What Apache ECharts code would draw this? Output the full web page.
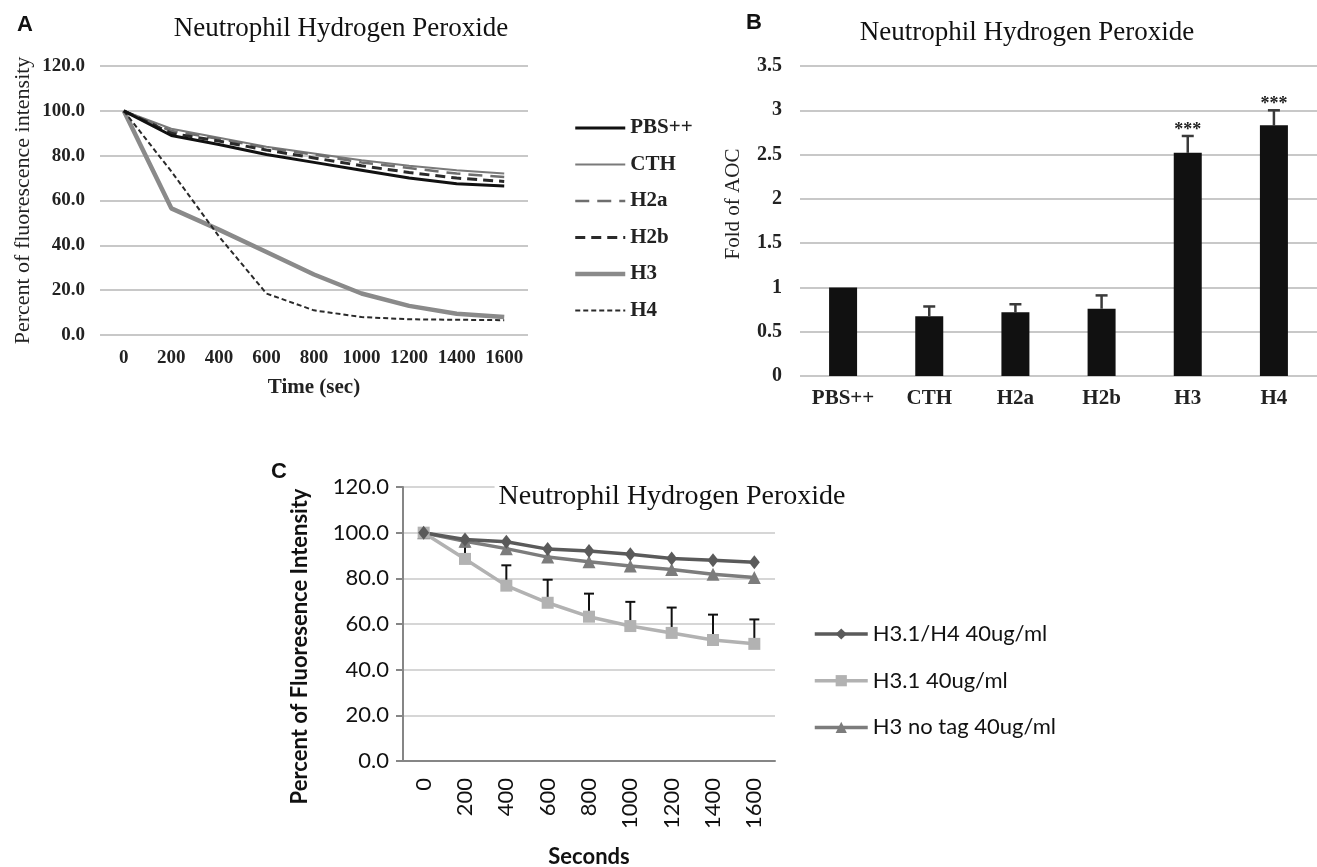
<!DOCTYPE html>
<html lang="en">
<head>
  <meta charset="UTF-8">
  <title>Neutrophil Hydrogen Peroxide</title>
  <script src="https://cdn.jsdelivr.net/npm/echarts@6/dist/echarts.min.js"></script>
  <style>
    html, body {
      margin: 0;
      padding: 0;
      background: #fff;
    }

    #main {
      width: 1317px;
      height: 867px;
    }
  </style>
</head>
<body>
  <div id="main"></div>

  <script type="text/javascript">
    // time points shared by panel A and C
    var times = ['0', '200', '400', '600', '800', '1000', '1200', '1400', '1600'];

    // panel A - percent of fluorescence intensity
    var pbsVals = [100, 89, 85, 80.5, 77, 73.5, 70, 67.5, 66.5];
    var cthVals = [100, 92, 88, 84, 81, 78, 75.5, 73.5, 72];
    var h2aVals = [100, 91, 87.5, 83.5, 80.5, 77, 74.5, 72, 70.5];
    var h2bVals = [100, 90, 86.5, 82.5, 79, 75.5, 72.5, 70, 68.5];
    var h3Vals = [100, 56.5, 47, 37, 27, 18.5, 13, 9.5, 8];
    var h4Vals = [100, 73, 44, 18.5, 11, 8, 7, 6.8, 6.6];

    // panel B - fold of AOC
    var groups = ['PBS++', 'CTH', 'H2a', 'H2b', 'H3', 'H4'];
    var aocFold = [1.0, 0.675, 0.72, 0.76, 2.52, 2.83];
    var aocErr = [0, 0.11, 0.09, 0.15, 0.19, 0.17];
    var aocSig = ['', '', '', '', '***', '***'];

    // panel C - percent of fluoresence intensity
    var h31h4Vals = [100, 97, 96, 92.8, 92, 90.5, 88.7, 87.9, 87];
    var h31Vals = [100, 88.5, 76.8, 69.3, 63.2, 59.1, 56.1, 53, 51.3];
    var h31Err = [0, 5.5, 8.9, 10.1, 10.1, 10.6, 11.1, 11.1, 10.7];
    var h3NoTagVals = [100, 96.2, 93, 89.3, 87.3, 85.4, 83.9, 81.8, 80.4];

    var serif = "'Liberation Serif', 'Times New Roman', serif";
    var sans = "Lato, 'Open Sans', sans-serif";
    var letterFont = "'Liberation Sans', Arial, sans-serif";

    var myChart = echarts.init(document.getElementById('main'));

    function lineSeries(name, data, color, width, type) {
      return {
        name: name,
        type: 'line',
        xAxisIndex: 0,
        yAxisIndex: 0,
        data: data,
        symbol: 'none',
        lineStyle: { color: color, width: width, type: type || 'solid' },
        itemStyle: { color: color },
        emphasis: { disabled: true }
      };
    }

    function markerSeries(name, data, color, symbol, size) {
      return {
        name: name,
        type: 'line',
        xAxisIndex: 2,
        yAxisIndex: 2,
        data: data,
        symbol: symbol,
        symbolSize: size,
        lineStyle: { color: color, width: 3.5 },
        itemStyle: { color: color },
        emphasis: { disabled: true }
      };
    }

    // upward error bars (with optional significance stars) drawn through the axes
    function errorSeries(xIdx, yIdx, vals, errs, color, half, width, stars) {
      return {
        type: 'custom',
        xAxisIndex: xIdx,
        yAxisIndex: yIdx,
        z: 1,
        silent: true,
        data: vals.map(function(v, i) { return [i, v, v + errs[i]]; }),
        encode: { x: 0, y: [1, 2] },
        renderItem: function(params, api) {
          var i = params.dataIndex;
          if (!errs[i]) return null;
          var base = api.coord([api.value(0), api.value(1)]);
          var top = api.coord([api.value(0), api.value(2)]);
          var st = { stroke: color, lineWidth: width };
          var children = [
            { type: 'line', shape: { x1: base[0], y1: base[1], x2: top[0], y2: top[1] }, style: st },
            { type: 'line', shape: { x1: top[0] - half, y1: top[1], x2: top[0] + half, y2: top[1] }, style: st }
          ];
          if (stars && stars[i]) {
            children.push({
              type: 'text',
              x: top[0],
              y: top[1] - 6,
              style: {
                text: stars[i],
                fill: '#222',
                font: 'bold 18px ' + serif,
                align: 'center',
                verticalAlign: 'middle'
              }
            });
          }
          return { type: 'group', children: children };
        }
      };
    }

    var option = {
      animation: false,
      backgroundColor: '#fff',
      title: [
        { text: 'A', left: 12, top: 9, textStyle: { fontFamily: letterFont, fontSize: 22, fontWeight: 'bold', color: '#111' } },
        { text: 'Neutrophil Hydrogen Peroxide', left: 336, top: 10, textAlign: 'center',
          textStyle: { fontFamily: serif, fontSize: 27, fontWeight: 'normal', color: '#111' } },
        { text: 'B', left: 741, top: 7, textStyle: { fontFamily: letterFont, fontSize: 22, fontWeight: 'bold', color: '#111' } },
        { text: 'Neutrophil Hydrogen Peroxide', left: 1022, top: 14, textAlign: 'center',
          textStyle: { fontFamily: serif, fontSize: 27, fontWeight: 'normal', color: '#111' } },
        { text: 'C', left: 266, top: 456, textStyle: { fontFamily: letterFont, fontSize: 22, fontWeight: 'bold', color: '#111' } },
        { text: 'Neutrophil Hydrogen Peroxide', left: 668, top: 481, textAlign: 'center',
          backgroundColor: '#fff', padding: [2, 4],
          textStyle: { fontFamily: serif, fontSize: 28, fontWeight: 'normal', color: '#111' } }
      ],
      legend: [
        {
          data: ['PBS++', 'CTH', 'H2a', 'H2b', 'H3', 'H4'],
          orient: 'vertical',
          left: 573,
          top: 117,
          padding: 0,
          itemWidth: 50,
          itemHeight: 14,
          itemGap: 14.5,
          selectedMode: false,
          itemStyle: { opacity: 0 },
          lineStyle: { width: 'inherit' },
          textStyle: { fontFamily: serif, fontSize: 21, fontWeight: 'bold', color: '#222', lineHeight: 22 }
        },
        {
          data: ['H3.1/H4 40ug/ml', 'H3.1 40ug/ml', 'H3 no tag 40ug/ml'],
          orient: 'vertical',
          left: 813,
          top: 622,
          padding: 0,
          itemWidth: 53,
          itemHeight: 14,
          itemGap: 22.7,
          selectedMode: false,
          lineStyle: { width: 'inherit' },
          textStyle: { fontFamily: sans, fontSize: 22, color: '#111', lineHeight: 24 }
        }
      ],
      grid: [
        { left: 100, top: 66, width: 428, height: 269, outerBoundsMode: 'none' },
        { left: 800, top: 66, width: 517, height: 310, outerBoundsMode: 'none' },
        { left: 403, top: 487, width: 372, height: 274, outerBoundsMode: 'none' }
      ],
      xAxis: [
        {
          gridIndex: 0,
          type: 'category',
          data: times,
          boundaryGap: true,
          axisLine: { show: false },
          axisTick: { show: false },
          axisLabel: { interval: 0, margin: 14, fontFamily: serif, fontSize: 19, fontWeight: 'bold', color: '#222' },
          name: 'Time (sec)',
          nameLocation: 'middle',
          nameGap: 42,
          nameTextStyle: { fontFamily: serif, fontSize: 21, fontWeight: 'bold', color: '#222' }
        },
        {
          gridIndex: 1,
          type: 'category',
          data: groups,
          axisLine: { show: false },
          axisTick: { show: false },
          axisLabel: { interval: 0, margin: 12, fontFamily: serif, fontSize: 21, fontWeight: 'bold', color: '#222' }
        },
        {
          gridIndex: 2,
          type: 'category',
          data: times,
          boundaryGap: true,
          axisLine: { lineStyle: { color: '#868686', width: 2 } },
          axisTick: { length: 6, lineStyle: { color: '#868686', width: 2 } },
          axisLabel: { interval: 0, rotate: 90, margin: 17, fontFamily: sans, fontSize: 22, color: '#111' },
          name: 'Seconds',
          nameLocation: 'middle',
          nameGap: 85,
          nameTextStyle: { fontFamily: sans, fontSize: 22, fontWeight: 'bold', color: '#111' }
        }
      ],
      yAxis: [
        {
          gridIndex: 0,
          type: 'value',
          min: 0,
          max: 120,
          interval: 20,
          axisLine: { show: false },
          axisTick: { show: false },
          splitLine: { lineStyle: { color: '#c8c8c8', width: 2 } },
          axisLabel: {
            margin: 15, fontFamily: serif, fontSize: 19, fontWeight: 'bold', color: '#222',
            formatter: function(v) { return v.toFixed(1); }
          },
          name: 'Percent of fluorescence intensity',
          nameLocation: 'middle',
          nameGap: 66,
          nameTextStyle: { fontFamily: serif, fontSize: 22, color: '#222' }
        },
        {
          gridIndex: 1,
          type: 'value',
          min: 0,
          max: 3.5,
          interval: 0.5,
          axisLine: { show: false },
          axisTick: { show: false },
          splitLine: { lineStyle: { color: '#c8c8c8', width: 2 } },
          axisLabel: { margin: 18, fontFamily: serif, fontSize: 20, fontWeight: 'bold', color: '#222' },
          name: 'Fold of AOC',
          nameLocation: 'middle',
          nameGap: 56,
          nameTextStyle: { fontFamily: serif, fontSize: 21, color: '#222', padding: [0, 0, 0, 34] }
        },
        {
          gridIndex: 2,
          type: 'value',
          min: 0,
          max: 120,
          interval: 20,
          axisLine: { show: true, lineStyle: { color: '#868686', width: 2 } },
          axisTick: { show: true, length: 7, lineStyle: { color: '#868686', width: 2 } },
          splitLine: { lineStyle: { color: '#d6d6d6', width: 2 } },
          axisLabel: {
            margin: 14, fontFamily: sans, fontSize: 22, color: '#111',
            formatter: function(v) { return v.toFixed(1); }
          },
          name: 'Percent of Fluoresence Intensity',
          nameLocation: 'middle',
          nameGap: 92,
          nameTextStyle: { fontFamily: sans, fontSize: 22, fontWeight: 'bold', color: '#111', padding: [0, 45, 0, 0] }
        }
      ],
      series: [
        lineSeries('H3', h3Vals, '#8a8a8a', 4.5),
        lineSeries('H4', h4Vals, '#2a2a2a', 2, [5, 3]),
        lineSeries('CTH', cthVals, '#7a7a7a', 2),
        lineSeries('H2a', h2aVals, '#6e6e6e', 2.5, [14, 8]),
        lineSeries('H2b', h2bVals, '#2a2a2a', 3, [10, 6]),
        lineSeries('PBS++', pbsVals, '#111', 3),
        {
          name: 'Fold of AOC',
          type: 'bar',
          xAxisIndex: 1,
          yAxisIndex: 1,
          data: aocFold,
          barWidth: 28,
          itemStyle: { color: '#111' },
          emphasis: { disabled: true }
        },
        errorSeries(1, 1, aocFold, aocErr, '#3a3a3a', 6, 2.5, aocSig),
        errorSeries(2, 2, h31Vals, h31Err, '#111', 5, 2),
        markerSeries('H3 no tag 40ug/ml', h3NoTagVals, '#7c7c7c', 'triangle', 13),
        markerSeries('H3.1 40ug/ml', h31Vals, '#b2b2b2', 'rect', 12),
        markerSeries('H3.1/H4 40ug/ml', h31h4Vals, '#5a5a5a', 'diamond', [11, 14])
      ]
    };

    myChart.setOption(option);
  </script>
</body>
</html>
